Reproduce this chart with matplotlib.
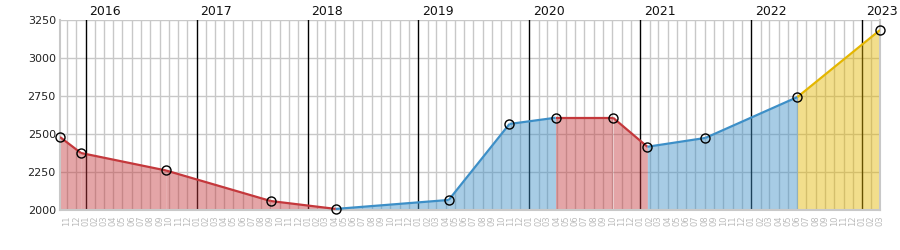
import matplotlib
matplotlib.use("Agg")
import matplotlib.pyplot as plt
import matplotlib.dates as mdates
import numpy as np
import pandas as pd

# ---- data ----
dates = ["2015-10-09", "2015-12-17", "2016-09-22", "2017-09-02", "2018-04-04",
         "2019-04-11", "2019-10-28", "2020-03-28", "2020-10-03", "2021-01-24",
         "2021-08-03", "2022-06-02", "2023-03-01"]
values = [2480, 2375, 2260, 2059, 2007, 2066, 2566, 2607, 2607, 2416, 2474, 2743, 3184]
# kind of each segment (between consecutive points)
segment_kinds = ["down", "down", "down", "down", "up", "up", "up", "down", "down",
                 "up", "up", "forecast"]
year_labels = ["2016", "2017", "2018", "2019", "2020", "2021", "2022", "2023"]
y_ticks = [2000, 2250, 2500, 2750, 3000, 3250]

line_colors = {"down": "#c4383c", "up": "#3d8fc7", "forecast": "#e4b600"}

x = pd.to_datetime(dates)
xn = mdates.date2num(x)

fig = plt.figure(figsize=(9, 2.5), dpi=100)
ax = fig.add_axes([60/900, 1-210/250, 820/900, 190/250])

ax.set_xlim(xn[0], xn[-1])
ax.set_ylim(2000, 3250)

# monthly grid
months = pd.date_range("2015-11-01", "2023-03-01", freq="MS")
mn = mdates.date2num(months)
for d, m in zip(months, mn):
    if d.month == 1:
        ax.axvline(m, color="black", lw=1.0, zorder=1)
    else:
        ax.axvline(m, color="#c8c8c8", lw=1.0, zorder=0)
for yv in y_ticks:
    ax.axhline(yv, color="#c8c8c8", lw=1.0, zorder=0)

# fills and lines per segment
for i, k in enumerate(segment_kinds):
    xs = xn[i:i+2]
    ys = values[i:i+2]
    ax.fill_between(xs, 2000, ys, color=line_colors[k], alpha=0.45, lw=0, zorder=2)
    ax.plot(xs, ys, color=line_colors[k], lw=1.6, zorder=3, solid_capstyle="butt")

ax.plot(xn, values, linestyle="none", marker="o", markersize=6.5,
        markerfacecolor="none", markeredgecolor="black", markeredgewidth=1.0,
        zorder=4, clip_on=False)

# ticks
ax.set_yticks(y_ticks)
ax.set_yticklabels([str(v) for v in y_ticks], fontsize=8, color="#222222")
ax.set_xticks(mn)
ax.set_xticklabels([d.strftime("%m") for d in months], rotation=90,
                   fontsize=6, color="#bbbbbb")
ax.tick_params(axis="both", length=0, pad=3)
ax.tick_params(axis="x", pad=4)

# year labels on top
for lbl in year_labels:
    m = mdates.date2num(pd.Timestamp(f"{lbl}-01-01"))
    ax.text(m + 12, 3262, lbl, ha="left", va="bottom", fontsize=9, color="#111111")

for s in ax.spines.values():
    s.set_color("#c8c8c8")
    s.set_linewidth(1.5)
ax.spines["top"].set_visible(False)

fig.savefig("out.png", dpi=100)
